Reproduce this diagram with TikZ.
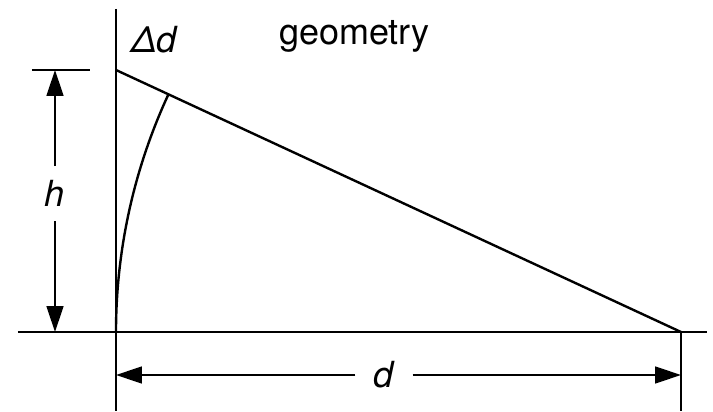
\documentclass[tikz,border=0pt]{standalone}
\usepackage{fontspec}
\setmainfont{TeX Gyre Heros}
\usetikzlibrary{arrows.meta,positioning,calc}

\begin{document}
\begin{tikzpicture}[
  line/.style={line width=1.7pt, black},
  arr/.style={-{Triangle[length=0.65cm, width=0.42cm]}, line width=1.7pt},
  lbl/.style={font=\fontsize{25.6}{30}\selectfont\itshape, inner sep=10pt},
  title/.style={font=\fontsize{25.6}{30}\selectfont, anchor=base}
]
  \useasboundingbox (-2.9,-2.0) rectangle (14.925,8.3);

  % triangle corners
  \coordinate (A) at (0,0);
  \coordinate (B) at (0,6.55);
  \coordinate (C) at (14.125,0);

  % axes and ticks
  \coordinate (vtop) at (0,8.075);
  \coordinate (vbot) at (0,-1.975);
  \coordinate (bl) at (-2.45,0);
  \coordinate (br) at (14.775,0);
  \coordinate (cbot) at (14.125,-1.975);
  \coordinate (tl) at (-2.1,6.55);
  \coordinate (tr) at (-0.65,6.55);

  \draw[line] (vtop) -- (vbot);
  \draw[line] (bl) -- (br);
  \draw[line] (C) -- (cbot);
  \draw[line] (tl) -- (tr);
  \draw[line] (B) -- (C);

  % arc of radius d around C
  \draw[line] (A) arc[start angle=180, end angle=155.12, radius=14.125];

  % labels
  \node[title] (geo) at (5.96,7.175) {geometry};
  \node[title, font=\fontsize{25.6}{30}\selectfont\itshape] (dd) at (0.95,6.975) {Δd};

  \node[lbl] (h) at (-1.525,3.46) {h};
  \coordinate (htop) at (-1.525,6.55);
  \coordinate (hbot) at (-1.525,0);
  \draw[arr] (h) -- (htop);
  \draw[arr] (h) -- (hbot);

  \node[lbl, inner xsep=13pt] (d) at (6.7,-1.075) {d};
  \coordinate (dl) at (0,-1.075);
  \coordinate (dr) at (14.125,-1.075);
  \draw[arr] (d) -- (dl);
  \draw[arr] (d) -- (dr);
\end{tikzpicture}
\end{document}
